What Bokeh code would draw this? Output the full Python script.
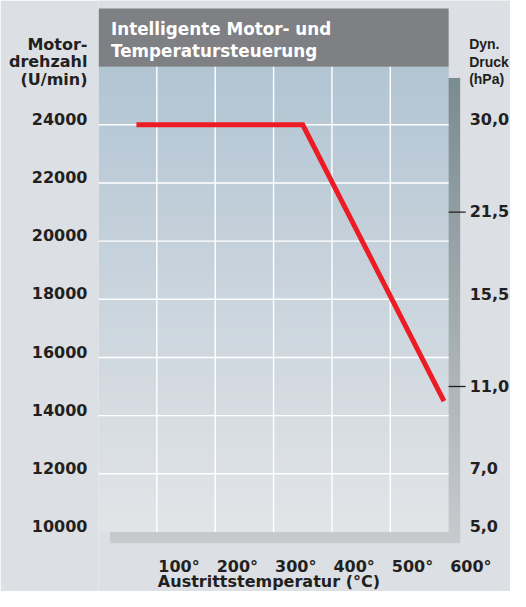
import numpy as np
from bokeh.plotting import figure
from bokeh.models import Range1d, LinearAxis, FixedTicker
from bokeh.core.properties import value
from bokeh.embed import file_html
from bokeh.resources import INLINE

# ---------------- data ----------------
temp_ticks = [100, 200, 300, 400, 500, 600]
temp_labels = ["100°", "200°", "300°", "400°", "500°", "600°"]
speed_ticks = [10000, 12000, 14000, 16000, 18000, 20000, 22000, 24000]
speed_labels = ["10000", "12000", "14000", "16000", "18000", "20000", "22000", "24000"]
pressure_speed = [24000, 21000, 18000, 15000, 12000, 10000]
pressure_labels = ["30,0", "21,5", "15,5", "11,0", "7,0", "5,0"]
pressure_marked = [False, True, False, True, False, False]
curve_temp = [65, 350, 592]
curve_speed = [24000, 24000, 14500]

title_lines = ["Intelligente Motor- und", "Temperatursteuerung"]
left_title = ["Motor-", "drehzahl", "(U/min)"]
right_title = ["Dyn.", "Druck", "(hPa)"]
x_title = "Austrittstemperatur (°C)"

# ---------------- layout / style ----------------
W, H = 510, 591
BL = 98                     # left border (axis panel)
FW, FH = W - BL, H
X0, X1 = 0, 706
Y0, Y1 = 7950, 28275
PX0, PX1 = 0, 600           # plot area
PY0, PY1 = 10000, 26000
TOP = 28000                 # banner top
BG = "#dcdfe4"
TXT = "#231f20"
FONT = "DejaVu Sans"
BASE_FIX = 6.3              # glyph text baseline correction (px)


def ux(px):
    return px * (X1 - X0) / FW


def uy(px):
    return px * (Y1 - Y0) / FH


def cy(canvas_y):
    return Y1 - uy(canvas_y)


def by(canvas_y):
    """data y for a text baseline at the given canvas y"""
    return cy(canvas_y - BASE_FIX)


LIFT = int(round(uy(5.3)))


def vgrad(top, bottom, n=256):
    t = np.linspace(0, 1, n)[:, None]
    a = np.array([int(bottom[i:i + 2], 16) for i in (1, 3, 5)], float)
    b = np.array([int(top[i:i + 2], 16) for i in (1, 3, 5)], float)
    rgb = a * (1 - t) + b * t
    img = np.empty((n, 1, 4), dtype=np.uint8)
    img[:, 0, :3] = np.round(rgb).astype(np.uint8)
    img[:, 0, 3] = 255
    return img.view(np.uint32).reshape(n, 1)


p = figure(width=W, height=H, output_backend="svg", toolbar_location=None,
           x_range=Range1d(X0, X1), y_range=Range1d(Y0, Y1),
           x_axis_location=None, y_axis_location=None,
           min_border_left=BL, min_border_right=0,
           min_border_top=0, min_border_bottom=0,
           background_fill_color=BG, border_fill_color=BG,
           outline_line_color=None)
p.grid.visible = False

# drop shadow and plot area gradient
sx, sy = ux(11.5), uy(11.3)
p.image_rgba(image=[vgrad("#7a8b91", "#c8cbce")], x=PX0 + sx, y=PY0 - sy,
             dw=PX1 - PX0, dh=PY1 - PY0)
p.image_rgba(image=[vgrad("#b2c5d3", "#e2e4e7")], x=PX0, y=PY0,
             dw=PX1 - PX0, dh=PY1 - PY0)
# banner
p.quad(left=PX0, right=PX1, bottom=PY1, top=TOP, fill_color="#7f8084", line_color=None)

# grid lines
p.segment(x0=temp_ticks[:-1], x1=temp_ticks[:-1], y0=PY0, y1=PY1,
          line_color="white", line_width=1.4)
p.segment(x0=PX0, x1=PX1, y0=speed_ticks[1:], y1=speed_ticks[1:],
          line_color="white", line_width=1.4)

# curve
p.line(curve_temp, curve_speed, line_width=5, line_color="#ed1c24",
       line_join="miter", line_cap="butt")

# left axis: speed ticks (+ title lines)
p.extra_y_ranges = {"lab": Range1d(Y0 - LIFT, Y1 - LIFT)}
lt_pos = [int(round(cy(b))) for b in (49, 66.7, 84)]
ax_l = LinearAxis(y_range_name="lab",
                  ticker=FixedTicker(ticks=speed_ticks + lt_pos),
                  major_label_overrides=dict(zip(speed_ticks + lt_pos,
                                                 speed_labels + left_title)),
                  major_label_standoff=11,
                  axis_line_color=None, major_tick_line_color=None,
                  minor_tick_line_color=None, major_tick_out=0, major_tick_in=0,
                  major_label_text_font=FONT, major_label_text_font_style="bold",
                  major_label_text_font_size="16px", major_label_text_color=TXT)
p.add_layout(ax_l, "left")

txt = dict(text_font=value(FONT), text_font_style="bold", text_font_size="16px",
           text_color=TXT, text_baseline="alphabetic")

# right scale: pressure labels and marks
ry = [s - uy(5.5) if m else s - uy(0.7) for s, m in zip(pressure_speed, pressure_marked)]
ry = [y + uy(BASE_FIX) for y in ry]
p.text(x=[PX1] * len(ry), y=ry, text=pressure_labels, x_offset=21,
       text_align="left", **txt)
mk = [s for s, m in zip(pressure_speed, pressure_marked) if m]
p.segment(x0=PX1, x1=PX1 + ux(17), y0=mk, y1=mk, line_color=TXT, line_width=1.3)
rt = dict(txt)
rt.update(text_font=value("Liberation Sans"), text_font_size="14px")
p.text(x=[PX1] * 3, y=[by(b) for b in (49.5, 67.3, 84.5)], text=right_title,
       x_offset=20.5, text_align="left", **rt)

# bottom scale
p.text(x=temp_ticks, y=[by(572.5)] * len(temp_ticks), text=temp_labels, x_offset=1.5,
       text_align="left", **txt)
p.text(x=[temp_ticks[0]], y=[by(587.3)], text=[x_title], x_offset=1,
       text_align="left", **txt)

# banner title
bt = dict(txt)
bt.update(text_color="white", text_font_size="16.8px")
p.text(x=[PX0] * 2, y=[by(34.3), by(56.3)], text=title_lines, x_offset=12.5,
       text_align="left", **bt)

open("out.html", "w").write(file_html(p, INLINE))
